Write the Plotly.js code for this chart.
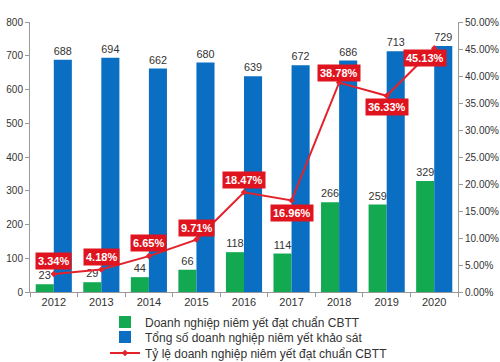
<!DOCTYPE html>
<html><head><meta charset="utf-8">
<script src="https://cdn.plot.ly/plotly-3.0.1.min.js"></script>
<style>html,body{margin:0;padding:0;background:#fff}#chart{width:500px;height:362px}</style>
</head><body><div id="chart"></div>
<script>
const years = ['2012','2013','2014','2015','2016','2017','2018','2019','2020'];
const achieved = [23, 29, 44, 66, 118, 114, 266, 259, 329];
const surveyed = [688, 694, 662, 680, 639, 672, 686, 713, 729];
const ratio = [0.0334, 0.0418, 0.0665, 0.0971, 0.1847, 0.1696, 0.3878, 0.3633, 0.4513];
const seriesNames = ['Doanh nghiệp niêm yết đạt chuẩn CBTT', 'Tổng số doanh nghiệp niêm yết khảo sát', 'Tỷ lệ doanh nghiệp niêm yết đạt chuẩn CBTT'];

const labelShift = [[0,-13],[0,-12],[0,-13],[0,-12],[0,-12],[0,13],[0,-10],[0,11],[-9,10]];

const font = 'Liberation Sans, Arial, sans-serif';
const traces = [
  {type:'bar', x:years, y:achieved, name:seriesNames[0], marker:{color:'#12A950'}, legend:'legend',
   text:achieved.map(String), textposition:'outside', textfont:{size:11,color:'#333'}, cliponaxis:false},
  {type:'bar', x:years, y:surveyed, name:seriesNames[1], marker:{color:'#0A6FC2'}, legend:'legend2',
   text:surveyed.map(String), textposition:'outside', textfont:{size:11,color:'#333'}, cliponaxis:false},
  {type:'scatter', mode:'lines+markers', x:years, y:ratio, yaxis:'y2', name:seriesNames[2], legend:'legend3',
   line:{color:'#E3222B', width:2}, marker:{symbol:'diamond', size:5, color:'#E3222B'}, cliponaxis:false}
];
const annotations = years.map((yr,i)=>({
  x: i, y: ratio[i], xref:'x', yref:'y2',
  text: '<b>' + (ratio[i]*100).toFixed(2) + '%</b>',
  showarrow:true, arrowcolor:'rgba(0,0,0,0)', arrowwidth:0.1, ax: labelShift[i][0], ay: labelShift[i][1],
  bgcolor:'#E0141E', borderpad:2, font:{color:'#fff', size:11, family:font}
}));
const legBase = {orientation:'v', xref:'container', yref:'container', x:0.21, xanchor:'left', yanchor:'middle',
  font:{size:12,color:'#333'}, bgcolor:'rgba(0,0,0,0)', borderwidth:0};
const layout = {
  width:500, height:362, margin:{l:30, r:42, t:22, b:70, autoexpand:false},
  paper_bgcolor:'#fff', plot_bgcolor:'#fff',
  font:{family:font, size:11, color:'#333'},
  barmode:'group', bargap:0.24, bargroupgap:0,
  showlegend:true,
  legend: Object.assign({}, legBase, {y:(362-322)/362}),
  legend2: Object.assign({}, legBase, {y:(362-337)/362}),
  legend3: Object.assign({}, legBase, {y:(362-353)/362}),
  xaxis:{type:'category', range:[-0.5,8.5], showline:true, linecolor:'#999', ticks:'outside', tickson:'boundaries', ticklen:4, tickcolor:'#999', tickfont:{size:11,color:'#333'}, showgrid:false},
  yaxis:{range:[0,800], dtick:100, showline:true, linecolor:'#999', ticks:'outside', ticklen:4, tickcolor:'#999', showgrid:false, zeroline:false, tickfont:{size:10,color:'#333'}},
  yaxis2:{range:[0,0.5], dtick:0.05, tickformat:'.2%', overlaying:'y', side:'right', showline:true, linecolor:'#999', ticks:'outside', ticklen:4, tickcolor:'#999', showgrid:false, zeroline:false, tickfont:{size:10,color:'#333'}},
  annotations: annotations
};
Plotly.newPlot('chart', traces, layout, {displayModeBar:false, staticPlot:true});
</script></body></html>
